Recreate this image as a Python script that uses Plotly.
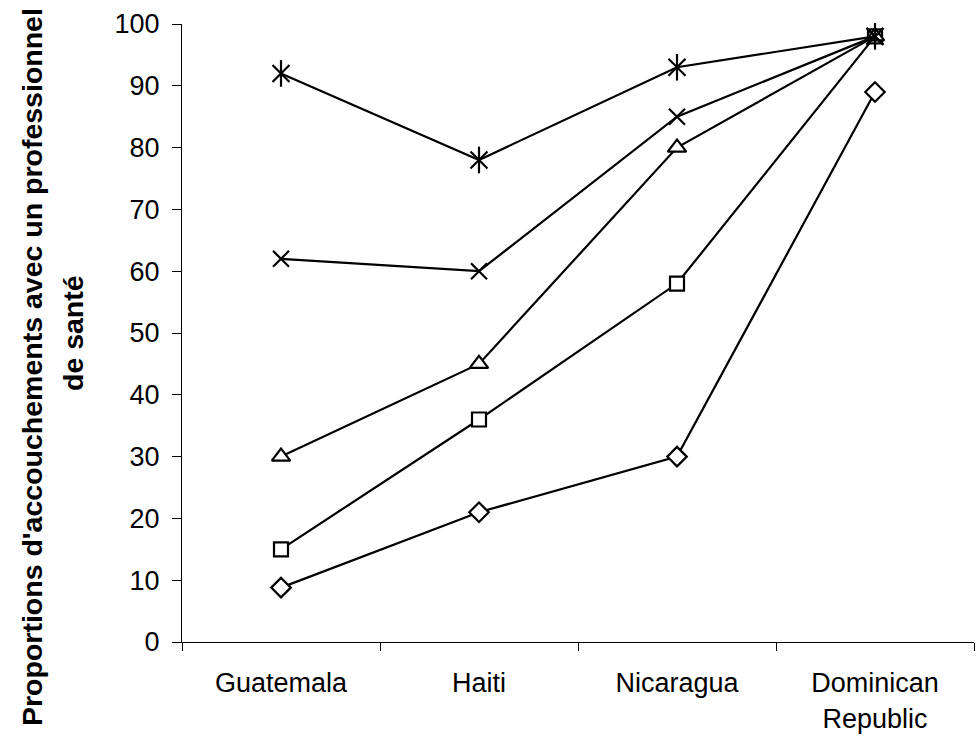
import plotly.graph_objects as go

# Countries on the category axis
countries = ["Guatemala", "Haiti", "Nicaragua", "Dominican<br>Republic"]

# Proportion of deliveries attended by a health professional, one series per marker
serie_etoile = [92, 78, 93, 98]
serie_croix = [62, 60, 85, 98]
serie_triangle = [30, 45, 80, 98]
serie_carre = [15, 36, 58, 98]
serie_losange = [8.8, 21, 30, 89]

y_ticks = list(range(0, 101, 10))

title_line1 = "Proportions d'accouchements avec un professionnel"
title_line2 = "de santé"

series = [
    (serie_losange, "diamond", 15, "white"),
    (serie_carre, "square", 14, "white"),
    (serie_triangle, "triangle-up", 16, "white"),
    (serie_croix, "x-thin", 16, "black"),
    (serie_etoile, "x-thin", 17, "black"),
]

fig = go.Figure()
for values, symbol, size, fill in series:
    fig.add_trace(go.Scatter(
        x=countries,
        y=values,
        mode="lines+markers",
        line=dict(color="black", width=2.2),
        marker=dict(symbol=symbol, size=size, color=fill,
                    line=dict(color="black", width=2.2)),
        showlegend=False,
        cliponaxis=False,
    ))

# vertical stroke completing the six-armed star marker
fig.add_trace(go.Scatter(
    x=countries,
    y=serie_etoile,
    mode="markers",
    marker=dict(symbol="line-ns", size=19, color="black",
                line=dict(color="black", width=2.2)),
    showlegend=False,
    cliponaxis=False,
))

font_family = "Liberation Sans, Arial, sans-serif"

fig.update_layout(
    width=980,
    height=740,
    margin=dict(l=182, r=6, t=24, b=98),
    paper_bgcolor="white",
    plot_bgcolor="white",
    font=dict(family=font_family, size=27, color="black"),
    xaxis=dict(
        type="category",
        range=[-0.5, 3.5],
        tickson="boundaries",
        ticks="outside",
        ticklen=8,
        tickcolor="black",
        showline=True,
        linecolor="black",
        linewidth=1,
        showgrid=False,
        zeroline=False,
        tickfont=dict(size=27),
        ticklabelstandoff=17,
    ),
    yaxis=dict(
        range=[0, 100],
        tickvals=y_ticks,
        ticks="outside",
        ticklen=9,
        tickcolor="black",
        showline=True,
        linecolor="black",
        linewidth=1,
        showgrid=False,
        zeroline=False,
        tickfont=dict(size=27),
        ticklabelstandoff=7,
    ),
    annotations=[
        dict(
            text="<b>" + title_line1 + "</b>",
            textangle=-90,
            xref="paper", yref="paper",
            x=-0.1894, y=0.445,
            xanchor="center", yanchor="middle",
            showarrow=False,
            font=dict(family=font_family, size=28.5, color="black"),
        ),
        dict(
            text="<b>" + title_line2 + "</b>",
            textangle=-90,
            xref="paper", yref="paper",
            x=-0.1376, y=0.5,
            xanchor="center", yanchor="middle",
            showarrow=False,
            font=dict(family=font_family, size=28.5, color="black"),
        ),
    ],
)

fig.write_html("out.html")
